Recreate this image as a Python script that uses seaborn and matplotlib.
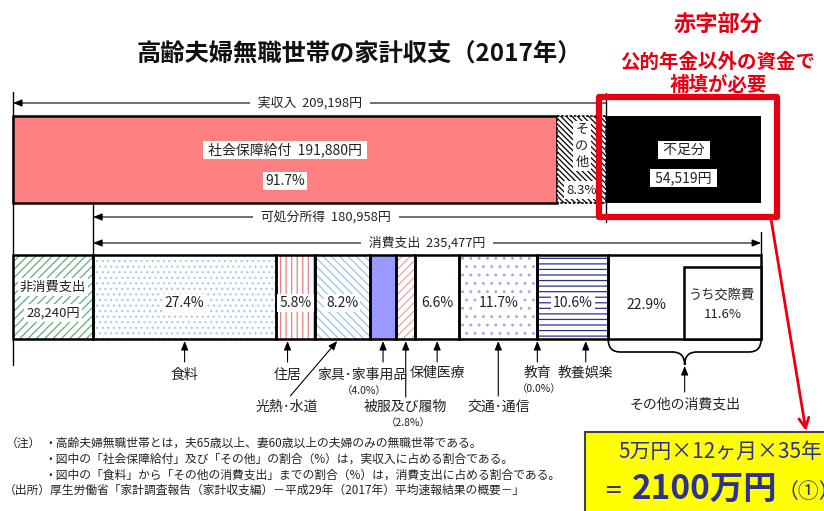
import matplotlib

matplotlib.use("Agg")
import matplotlib.pyplot as plt
import numpy as np
import seaborn as sns
from matplotlib.patches import PathPatch, Rectangle
from matplotlib.path import Path

# income side (yen per month)
income_labels = ["社会保障給付", "その他"]
income_values = [191880, 17318]
income_shares = [91.7, 8.3]
income_total = 209198
shortfall = 54519

# spending side
non_consumption = 28240
disposable_income = 180958
consumption_total = 235477
consumption_labels = ["食料", "住居", "光熱･水道", "家具･家事用品", "被服及び履物",
                      "保健医療", "交通･通信", "教育", "教養娯楽", "その他の消費支出"]
consumption_shares = [27.4, 5.8, 8.2, 4.0, 2.8, 6.6, 11.7, 0.0, 10.6, 22.9]
kosaihi_share = 11.6

notes = [
    "・高齢夫婦無職世帯とは，夫65歳以上、妻60歳以上の夫婦のみの無職世帯である。",
    "・図中の「社会保障給付」及び「その他」の割合（%）は，実収入に占める割合である。",
    "・図中の「食料」から「その他の消費支出」までの割合（%）は，消費支出に占める割合である。",
]
source = "（出所）厚生労働省「家計調査報告（家計収支編）－平成29年（2017年）平均速報結果の概要－」"

# --- layout (pixel space vertically, yen horizontally) ---
YEN_PER_PX = 352.5
TOP_Y, TOP_H = 159.5, 87
BOT_Y, BOT_H = 297, 84
NAVY = "#2e3192"
RED = "#e60012"


def px(x):
    return (x - 13) * YEN_PER_PX


def dpx(d):
    return d * YEN_PER_PX


sns.set_theme(style="white")
plt.rcParams["font.family"] = ["Noto Sans CJK JP", "DejaVu Sans"]
plt.rcParams["hatch.linewidth"] = 0.9

fig = plt.figure(figsize=(8.24, 5.11), dpi=100)
ax = fig.add_axes([0, 0, 1, 1])
ax.set_xlim(px(0), px(824))
ax.set_ylim(511, 0)
ax.axis("off")

box = dict(facecolor="white", edgecolor="none", pad=1.5)


def label(x, y, s, size=9, **kw):
    kw.setdefault("bbox", box)
    ax.text(x, y, s, ha="center", va="center", fontsize=size, color="#222222", zorder=6, **kw)


def arrow(x0, y0, x1, y1, style="-|>"):
    ax.annotate("", xy=(x1, y1), xytext=(x0, y0),
                arrowprops=dict(arrowstyle=f"{style},head_length=0.45,head_width=0.18",
                                color="black", lw=0.8, shrinkA=0, shrinkB=0), zorder=5)


# --- top bar: income and shortfall ---
ax.barh(TOP_Y, income_values[0], left=0, height=TOP_H, color="#ff8080",
        edgecolor="black", lw=1.8, zorder=2)
ax.barh(TOP_Y, income_values[1], left=income_values[0], height=TOP_H, color="white",
        edgecolor="black", hatch="\\\\\\\\\\\\", lw=0, zorder=2)
ax.barh(TOP_Y, income_values[1], left=income_values[0], height=TOP_H, fill=False,
        edgecolor="black", lw=1.2, ls=(0, (1.5, 1)), zorder=3)
ax.barh(TOP_Y, shortfall, left=income_total, height=TOP_H, color="black", lw=0, zorder=2)

social_c = income_values[0] / 2
label(social_c, 150, f" {income_labels[0]}  {income_values[0]:,}円 ", size=10)
label(social_c, 181, f"{income_shares[0]}%", size=10)
other_c = income_values[0] + income_values[1] / 2
label(other_c, 146, "そ\nの\n他", size=9.5, linespacing=1.35)
label(other_c, 190, f"{income_shares[1]}%", size=9.5)
short_c = income_total + shortfall / 2
label(short_c, 150, " 不足分 ", size=10)
label(short_c, 178, f" {shortfall:,}円 ", size=10)

# --- bottom bar: non-consumption + consumption breakdown ---
styles = [
    dict(color="white", edgecolor="#a9cdec", hatch="..."),
    dict(color="white", edgecolor="#f08080", hatch="|||"),
    dict(color="white", edgecolor="#9dc3e6", hatch="\\\\\\\\"),
    dict(color="#9999ff", edgecolor="none", hatch=None),
    dict(color="white", edgecolor="#f4a0a0", hatch="////"),
    dict(color="white", edgecolor="none", hatch=None),
    dict(color="white", edgecolor="#a6a6ee", hatch=".."),
    dict(color="white", edgecolor="none", hatch=None),
    dict(color="white", edgecolor=NAVY, hatch="---"),
    dict(color="white", edgecolor="none", hatch=None),
]

ax.barh(BOT_Y, non_consumption, left=0, height=BOT_H, color="white",
        edgecolor="#5fae7c", hatch="////", lw=0, zorder=2)
ax.barh(BOT_Y, non_consumption, left=0, height=BOT_H, fill=False,
        edgecolor="black", lw=1.8, zorder=3)
label(non_consumption / 2, 287, "非消費支出", size=9.5)
label(non_consumption / 2, 313, f"{non_consumption:,}円", size=9.5)

widths = np.array(consumption_shares) / 100 * consumption_total
lefts = non_consumption + np.concatenate([[0], np.cumsum(widths)[:-1]])
centers = lefts + widths / 2
for w, l, st in zip(widths, lefts, styles):
    ax.barh(BOT_Y, w, left=l, height=BOT_H, lw=0, zorder=2, **st)
ax.barh(BOT_Y, widths, left=lefts, height=BOT_H, fill=False, edgecolor="black",
        lw=1.8, zorder=3)

kosaihi_w = kosaihi_share / 100 * consumption_total
cons_end = non_consumption + consumption_total
ax.barh(303, kosaihi_w, left=cons_end - kosaihi_w, height=72, color="white",
        edgecolor="black", lw=1.8, zorder=4)
label(cons_end - kosaihi_w / 2, 296, "うち交際費", size=9.5)
label(cons_end - kosaihi_w / 2, 314, f"{kosaihi_share}%", size=9.5)

for i in [0, 1, 2, 5, 6, 8]:
    label(centers[i], 303, f"{consumption_shares[i]}%", size=10)
label(lefts[9] + (widths[9] - kosaihi_w) / 2, 305, f"{consumption_shares[9]}%", size=10)

# --- span arrows and guide lines ---
ax.plot([0, 0], [92, 365], color="black", lw=1, zorder=1)
ax.plot([income_total] * 2, [93, 222], color="black", lw=1, zorder=1)
ax.plot([non_consumption] * 2, [203, 255], color="black", lw=1, zorder=1)
ax.plot([cons_end] * 2, [232, 255], color="black", lw=1, zorder=1)

arrow(income_total, 103, 0, 103)
label(income_total / 2, 103, f"  実収入  {income_total:,}円  ", size=9.3)
arrow(non_consumption + disposable_income, 217, non_consumption, 217)
label(px(326), 217, f"  可処分所得  {disposable_income:,}円  ", size=9.3)
arrow(non_consumption, 243, cons_end, 243, style="<|-|>")
label(non_consumption + consumption_total / 2, 243,
      f"  消費支出  {consumption_total:,}円  ", size=9.3)

# --- category call-outs under the bar ---
callouts = {
    0: dict(dx=0, ty=375, y0=362),
    1: dict(dx=-8, ty=375, y0=362),
    2: dict(dx=-55, ty=407, y0=396, slant=True),
    3: dict(dx=-21, ty=375, y0=362, pct=True, adx=0),
    4: dict(dx=0, ty=407, y0=397, pct=True),
    5: dict(dx=0, ty=373, y0=362),
    6: dict(dx=0, ty=407, y0=396),
    7: dict(dx=0, ty=373, y0=362, pct=True),
    8: dict(dx=13, ty=373, y0=362),
}
for i, c in callouts.items():
    x = centers[i]
    tx = x + dpx(c["dx"])
    if c.get("slant"):
        arrow(x + dpx(c["dx"] + 3), c["y0"], x - dpx(5), 341)
    else:
        ax_x = x + dpx(c.get("adx", c["dx"]))
        arrow(ax_x, c["y0"], ax_x, 341)
    label(tx, c["ty"], consumption_labels[i], size=10, bbox=None)
    if c.get("pct"):
        label(tx + dpx(2), c["ty"] + 16, f"（{consumption_shares[i]}%）", size=7.5, bbox=None)

# brace under その他の消費支出
L, R = lefts[9], cons_end
M = (L + R) / 2
d = dpx(12)
verts = [(L, 339), (L, 352), (L + d, 352), (M - d, 352), (M, 352), (M, 365),
         (M, 352), (M + d, 352), (R - d, 352), (R, 352), (R, 339)]
codes = [Path.MOVETO, Path.CURVE3, Path.CURVE3, Path.LINETO, Path.CURVE3, Path.CURVE3,
         Path.CURVE3, Path.CURVE3, Path.LINETO, Path.CURVE3, Path.CURVE3]
ax.add_patch(PathPatch(Path(verts, codes), fill=False, lw=1.2, edgecolor="black", zorder=3))
arrow(M, 392, M, 366)
label(M, 404, consumption_labels[9], size=10, bbox=None)

# --- title and deficit call-out ---
ax.text(px(359), 55, "高齢夫婦無職世帯の家計収支（2017年）", ha="center", va="center",
        fontsize=17.5, fontweight="bold", color="#111111")
ax.text(px(718), 25, "赤字部分", ha="center", va="center", fontsize=16,
        fontweight="bold", color=RED)
ax.text(px(718), 62, "公的年金以外の資金で", ha="center", va="center", fontsize=14,
        fontweight="bold", color=RED)
ax.text(px(718), 85, "補填が必要", ha="center", va="center", fontsize=14,
        fontweight="bold", color=RED)
ax.add_patch(Rectangle((px(599), 97), dpx(178), 120, fill=False,
                       edgecolor=RED, lw=4.5, joinstyle="round", zorder=7))
ax.annotate("", xy=(px(806), 431), xytext=(px(771), 219),
            arrowprops=dict(arrowstyle="->,head_length=0.6,head_width=0.3",
                            color=RED, lw=2, shrinkA=0, shrinkB=0), zorder=7)

# yellow summary box
ax.add_patch(Rectangle((px(585), 432), dpx(255), 90, facecolor="#ffff00",
                       edgecolor="#444444", lw=1.5, zorder=6, clip_on=False))
ax.text(px(720), 452, "5万円×12ヶ月×35年", ha="center", va="center", fontsize=15,
        color=NAVY, zorder=8)
ax.text(px(613), 492, "＝", ha="center", va="center", fontsize=14, color=NAVY,
        fontweight="bold", zorder=8)
ax.text(px(705), 489, "2100万円", ha="center", va="center", fontsize=24,
        fontweight="bold", color=NAVY, zorder=8)
ax.text(px(778), 492, "（①）", ha="left", va="center", fontsize=15, color=NAVY, zorder=8)

# --- footnotes ---
ax.text(px(6), 443, "（注）", ha="left", va="center", fontsize=8.5, color="#222222")
for k, note in enumerate(notes):
    ax.text(px(44), 443 + 16 * k, note, ha="left", va="center", fontsize=8.5, color="#222222")
ax.text(px(4), 490, source, ha="left", va="center", fontsize=8.5, color="#222222")

fig.savefig("out.png", dpi=100)
plt.close(fig)
